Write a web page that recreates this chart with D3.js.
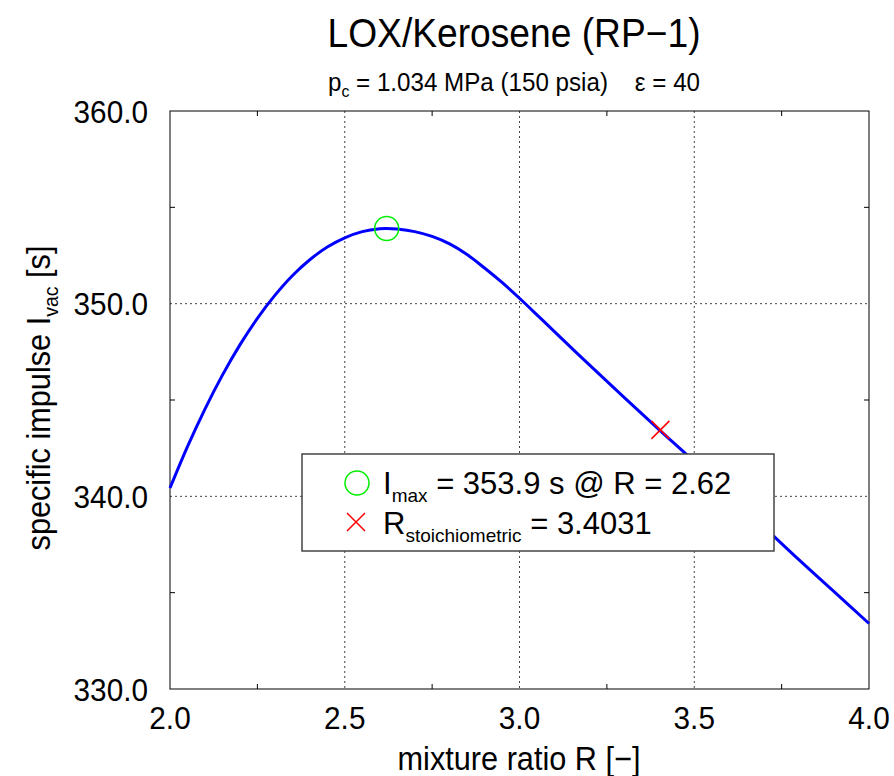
<!DOCTYPE html>
<html>
<head>
<meta charset="utf-8">
<script src="https://cdn.jsdelivr.net/npm/d3@7"></script>
<style>
  body { margin: 0; background: #fff; }
  text { font-family: "Liberation Sans", Arial, sans-serif; fill: #000; }
</style>
</head>
<body>
<script>
// mixture ratio vs vacuum specific impulse
var ratio = [2.0, 2.05, 2.1, 2.15, 2.2, 2.25, 2.3, 2.35, 2.4, 2.45, 2.5, 2.55, 2.6, 2.62, 2.65, 2.7, 2.75, 2.8, 2.85, 2.9, 2.95, 3.0, 3.05, 3.1, 3.2, 3.3, 3.4, 3.5, 3.6, 3.7, 3.8, 3.9, 4.0];
var isp = [340.43, 342.58, 344.53, 346.29, 347.86, 349.24, 350.43, 351.45, 352.28, 352.94, 353.42, 353.74, 353.89, 353.9, 353.87, 353.74, 353.49, 353.1, 352.55, 351.85, 351.1, 350.28, 349.42, 348.55, 346.82, 345.12, 343.45, 341.8, 340.1, 338.4, 336.7, 335.05, 333.4];
var xTicks = [2.0, 2.5, 3.0, 3.5, 4.0];
var xMinor = [2.25, 2.75, 3.25, 3.75];
var yTicks = [330, 340, 350, 360];
var yMinor = [335, 345, 355];
var maxPoint = {r: 2.62, isp: 353.9};
var stoichPoint = {r: 3.4031, isp: 343.45};

var W = 894, H = 776;
var m = {left: 170, right: 869, top: 111, bottom: 689};
var sx = 0.93; // text in the picture is a bit narrow

var svg = d3.select("body").append("svg")
  .attr("width", W).attr("height", H);

var x = d3.scaleLinear().domain([2, 4]).range([m.left, m.right]);
var y = d3.scaleLinear().domain([330, 360]).range([m.bottom, m.top]);

function label(px, py, size, anchor, str) {
  return svg.append("text")
    .attr("transform", `translate(${px},${py}) scale(${sx},1)`)
    .attr("text-anchor", anchor).attr("font-size", size)
    .text(str);
}

// grid
svg.selectAll(".gx").data(xTicks.slice(1, -1)).enter().append("line")
  .attr("x1", d => x(d)).attr("x2", d => x(d))
  .attr("y1", m.top).attr("y2", m.bottom)
  .attr("stroke", "#444").attr("stroke-width", 1).attr("stroke-dasharray", "2,3");
svg.selectAll(".gy").data(yTicks.slice(1, -1)).enter().append("line")
  .attr("x1", m.left).attr("x2", m.right)
  .attr("y1", d => y(d)).attr("y2", d => y(d))
  .attr("stroke", "#444").attr("stroke-width", 1).attr("stroke-dasharray", "2,3");

// minor ticks on all four sides, pointing in
var t = 5;
xMinor.forEach(function(d) {
  svg.append("line").attr("x1", x(d)).attr("x2", x(d)).attr("y1", m.bottom).attr("y2", m.bottom - t).attr("stroke", "#000");
  svg.append("line").attr("x1", x(d)).attr("x2", x(d)).attr("y1", m.top).attr("y2", m.top + t).attr("stroke", "#000");
});
yMinor.forEach(function(d) {
  svg.append("line").attr("x1", m.left).attr("x2", m.left + t).attr("y1", y(d)).attr("y2", y(d)).attr("stroke", "#000");
  svg.append("line").attr("x1", m.right).attr("x2", m.right - t).attr("y1", y(d)).attr("y2", y(d)).attr("stroke", "#000");
});

// frame
svg.append("rect")
  .attr("x", m.left).attr("y", m.top)
  .attr("width", m.right - m.left).attr("height", m.bottom - m.top)
  .attr("fill", "none").attr("stroke", "#000").attr("stroke-width", 1);

// tick labels
xTicks.forEach(d => label(x(d), 729, 32, "middle", d.toFixed(1)));
yTicks.forEach(d => label(148, y(d) + 11.5, 32, "end", d.toFixed(1)));

// curve
var line = d3.line().x((d, i) => x(ratio[i])).y(d => y(d)).curve(d3.curveCatmullRom.alpha(0.5));
svg.append("path").datum(isp)
  .attr("d", line)
  .attr("fill", "none").attr("stroke", "#0000ff").attr("stroke-width", 3);

// markers
svg.append("circle")
  .attr("cx", x(maxPoint.r)).attr("cy", y(maxPoint.isp)).attr("r", 12)
  .attr("fill", "none").attr("stroke", "#00ee00").attr("stroke-width", 1.5);
var cx = x(stoichPoint.r), cy = y(stoichPoint.isp), s = 9;
svg.append("path")
  .attr("d", `M${cx - s},${cy - s}L${cx + s},${cy + s}M${cx - s},${cy + s}L${cx + s},${cy - s}`)
  .attr("stroke", "#ff0000").attr("stroke-width", 1.5);

// legend
var lg = svg.append("g");
lg.append("rect")
  .attr("x", 302).attr("y", 454).attr("width", 472).attr("height", 97)
  .attr("fill", "#fff").attr("stroke", "#444").attr("stroke-width", 1.5);
lg.append("circle").attr("cx", 357).attr("cy", 483).attr("r", 12)
  .attr("fill", "none").attr("stroke", "#00ee00").attr("stroke-width", 1.5);
lg.append("path")
  .attr("d", "M347,513L365,531M347,531L365,513")
  .attr("stroke", "#ff0000").attr("stroke-width", 1.5);
var t1 = lg.append("text").attr("x", 383).attr("y", 494).attr("font-size", 31);
t1.append("tspan").text("I");
t1.append("tspan").attr("font-size", 19).attr("dy", 8).text("max");
t1.append("tspan").attr("dy", -8).text(" = 353.9 s @ R = 2.62");
var t2 = lg.append("text").attr("x", 383).attr("y", 534).attr("font-size", 31);
t2.append("tspan").text("R");
t2.append("tspan").attr("font-size", 19).attr("dy", 8).text("stoichiometric");
t2.append("tspan").attr("dy", -8).text(" = 3.4031");

// titles
label(514, 47, 40, "middle", "LOX/Kerosene (RP\u22121)");
var sub = svg.append("text")
  .attr("transform", `translate(514,91) scale(${sx},1)`)
  .attr("text-anchor", "middle").attr("font-size", 26)
  .attr("xml:space", "preserve");
sub.append("tspan").text("p");
sub.append("tspan").attr("font-size", 17).attr("dy", 6).text("c");
sub.append("tspan").attr("dy", -6).text(" = 1.034 MPa (150 psia)    \u03b5 = 40");

label(519, 770, 33, "middle", "mixture ratio R [\u2212]");

var yt = svg.append("text")
  .attr("transform", `translate(50,398) rotate(-90) scale(${sx},1)`)
  .attr("text-anchor", "middle").attr("font-size", 33);
yt.append("tspan").text("specific impulse I");
yt.append("tspan").attr("font-size", 21).attr("dy", 8).text("vac");
yt.append("tspan").attr("dy", -8).text(" [s]");
</script>
</body>
</html>
